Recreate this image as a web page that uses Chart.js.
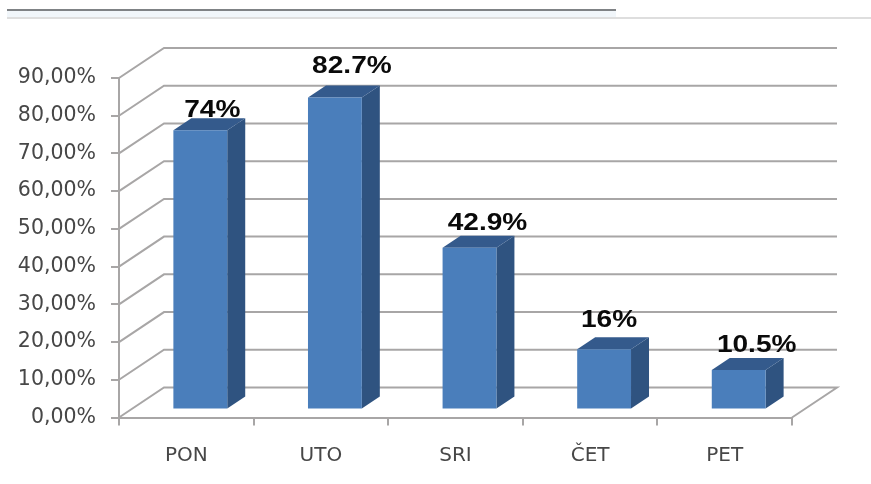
<!DOCTYPE html>
<html>
<head>
<meta charset="utf-8">
<title>Chart</title>
<style>
  html, body { margin: 0; padding: 0; background: #fff; }
  canvas { display: block; filter: blur(0.5px); }
</style>
<script src="https://cdn.jsdelivr.net/npm/chart.js@4"></script>
</head>
<body>
<canvas id="chart" width="871" height="484"></canvas>
<script>
const days = ['PON', 'UTO', 'SRI', 'ČET', 'PET'];
const percents = [74, 82.7, 42.9, 16, 10.5];
const valueLabels = ['74%', '82.7%', '42.9%', '16%', '10.5%'];
const labelShiftX = [12, 17, 18, 5, 18];   // labels sit unevenly in the original
const labelShiftY = [13, 25, 18, 22, 18];

const GRID = '#a8a6a6';
const TEXT = '#474747';
const wall = { x: 45, y: -30 };      // back wall offset from the front plane
const barPlane = { x: 14, y: -8 };   // bars stand halfway into the floor
const barDepth = { x: 18, y: -12 };

function poly(ctx, pts, color) {
    ctx.fillStyle = color;
    ctx.beginPath();
    pts.forEach((p, i) => i ? ctx.lineTo(p[0], p[1]) : ctx.moveTo(p[0], p[1]));
    ctx.closePath();
    ctx.fill();
}

const pagePlugin = {
    id: 'page',
    beforeDraw(chart) {
        const ctx = chart.ctx;
        ctx.save();
        // rules left over at the top of the source page
        ctx.fillStyle = '#f1f6fa';
        ctx.fillRect(7, 11, 609, 6);
        ctx.fillStyle = '#7f8285';
        ctx.fillRect(7, 9, 609, 2);
        ctx.fillStyle = '#dedede';
        ctx.fillRect(7, 17, 864, 2);
        ctx.restore();
    }
};

const wallPlugin = {
    id: 'wall',
    beforeDatasetsDraw(chart) {
        const ctx = chart.ctx;
        const { left, right } = chart.chartArea;
        const yScale = chart.scales.y;
        ctx.save();
        ctx.strokeStyle = GRID;
        ctx.lineWidth = 2;
        yScale.ticks.forEach(t => {
            const y = yScale.getPixelForValue(t.value);
            ctx.beginPath();
            ctx.moveTo(left, y);
            ctx.lineTo(left + wall.x, y + wall.y);
            ctx.lineTo(right + wall.x, y + wall.y);
            if (t.value === 0) ctx.lineTo(right, y);
            ctx.stroke();
        });
        ctx.restore();
    }
};

const bar3dPlugin = {
    id: 'bar3d',
    beforeDatasetDraw(chart) {
        const ctx = chart.ctx;
        ctx.save();
        ctx.translate(barPlane.x, barPlane.y);
        chart.getDatasetMeta(0).data.forEach(bar => {
            const l = bar.x - bar.width / 2;
            const r = bar.x + bar.width / 2;
            const d = barDepth;
            poly(ctx, [[r, bar.y], [r + d.x, bar.y + d.y], [r + d.x, bar.base + d.y], [r, bar.base]], '#2f5380');
            poly(ctx, [[l, bar.y], [l + d.x, bar.y + d.y], [r + d.x, bar.y + d.y], [r, bar.y]], '#345a8c');
        });
    },
    afterDatasetDraw(chart) {
        chart.ctx.restore();
    }
};

const labelPlugin = {
    id: 'valueLabels',
    afterDatasetsDraw(chart) {
        const ctx = chart.ctx;
        ctx.save();
        ctx.fillStyle = '#0a0a0a';
        ctx.font = 'bold 24px "Liberation Sans"';
        ctx.textAlign = 'center';
        ctx.textBaseline = 'alphabetic';
        chart.getDatasetMeta(0).data.forEach((bar, i) => {
            ctx.save();
            ctx.translate(bar.x + barPlane.x + labelShiftX[i], bar.y + barPlane.y - labelShiftY[i]);
            ctx.scale(1.17, 1);   // the original picture is stretched sideways
            ctx.fillText(valueLabels[i], 0, 0);
            ctx.restore();
        });
        ctx.restore();
    }
};

new Chart(document.getElementById('chart'), {
    type: 'bar',
    data: {
        labels: days,
        datasets: [{
            data: percents,
            backgroundColor: '#4a7ebb',
            barPercentage: 0.4,
            categoryPercentage: 1
        }]
    },
    options: {
        responsive: false,
        animation: false,
        layout: { padding: { top: 78, right: 79, left: 0, bottom: 0 } },
        plugins: { legend: { display: false }, tooltip: { enabled: false } },
        scales: {
            x: {
                afterFit: s => { s.height = 66.5; },
                grid: { drawOnChartArea: false, color: GRID, lineWidth: 2, tickLength: 8 },
                border: { color: GRID, width: 2 },
                ticks: { color: TEXT, padding: 18, maxRotation: 0, font: { family: 'DejaVu Sans', size: 20 } }
            },
            y: {
                min: 0,
                max: 90,
                afterFit: s => { s.width = 119; },
                grid: { drawOnChartArea: false, color: GRID, lineWidth: 2, tickLength: 8 },
                border: { color: GRID, width: 2 },
                ticks: {
                    stepSize: 10,
                    color: TEXT,
                    padding: 15,
                    font: { family: 'DejaVu Sans', size: 20.5 },
                    callback: v => v.toFixed(2).replace('.', ',') + '%'
                }
            }
        }
    },
    plugins: [pagePlugin, wallPlugin, bar3dPlugin, labelPlugin]
});
</script>
</body>
</html>
